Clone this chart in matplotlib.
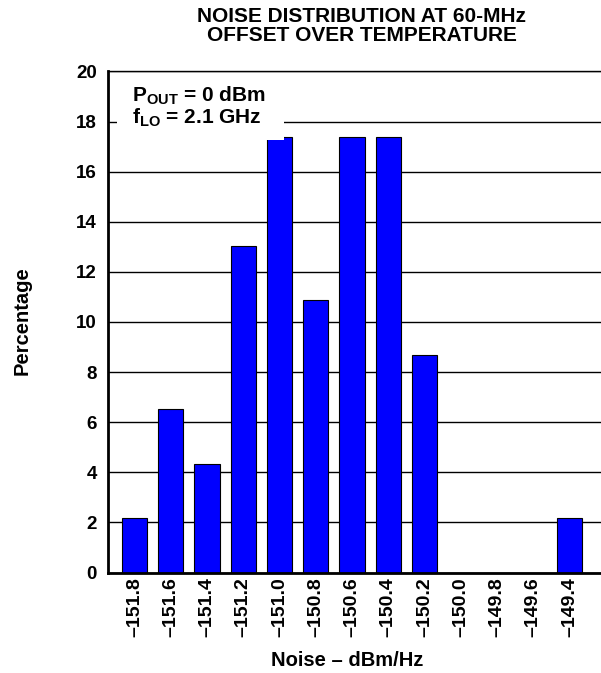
import matplotlib
matplotlib.use("Agg")
import matplotlib.pyplot as plt
from matplotlib.patches import Rectangle

plt.rcParams['font.family'] = ['Liberation Sans', 'DejaVu Sans']
plt.rcParams['font.weight'] = 'bold'
plt.rcParams['mathtext.fontset'] = 'custom'
plt.rcParams['mathtext.rm'] = 'Liberation Sans:bold'
plt.rcParams['mathtext.it'] = 'Liberation Sans:bold'
plt.rcParams['mathtext.bf'] = 'Liberation Sans:bold'

# noise bins (dBm/Hz) and share of parts in each bin (%)
noise_bins = ["\u2013151.8", "\u2013151.6", "\u2013151.4", "\u2013151.2", "\u2013151.0",
              "\u2013150.8", "\u2013150.6", "\u2013150.4", "\u2013150.2", "\u2013150.0",
              "\u2013149.8", "\u2013149.6", "\u2013149.4"]
percentage = [2.17, 6.52, 4.35, 13.04, 17.39, 10.87, 17.39, 17.39, 8.70, 0, 0, 0, 2.17]
y_ticks = [0, 2, 4, 6, 8, 10, 12, 14, 16, 18, 20]

fig = plt.figure(figsize=(6.01, 6.73), dpi=100)
ax = fig.add_axes([0.1797, 0.1493, 0.8203, 0.7445])

x = range(len(noise_bins))
ax.bar(x, percentage, width=0.7, color='#0000ff', edgecolor='black', linewidth=0.8, zorder=2)

ax.set_xlim(-0.73, 12.87)
ax.set_ylim(0, 20)
ax.set_yticks(y_ticks)
ax.set_xticks(list(x))
ax.set_xticklabels(noise_bins, rotation=90, fontsize=14, fontweight='bold')
ax.set_yticklabels([str(t) for t in y_ticks], fontsize=13.5, fontweight='bold')
ax.tick_params(axis='both', length=0)
ax.tick_params(axis='y', pad=8)
ax.tick_params(axis='x', pad=3.5)

# horizontal grid behind the bars
ax.yaxis.grid(True, color='black', linewidth=1.0, zorder=0)
ax.set_axisbelow(True)

for side in ['left', 'bottom']:
    ax.spines[side].set_linewidth(2.0)
ax.spines['top'].set_linewidth(1.0)
ax.spines['right'].set_visible(False)

# white backing behind the condition labels
ax.add_patch(Rectangle((-0.48, 17.26), 4.61, 2.65, facecolor='white', edgecolor='none', zorder=3))
ax.text(-0.08, 18.8, r"$\mathrm{P_{OUT}}$ = 0 dBm", fontsize=15, fontweight='bold',
        va='baseline', zorder=4)
ax.text(-0.08, 17.9, r"$\mathrm{f_{LO}}$ = 2.1 GHz", fontsize=15, fontweight='bold',
        va='baseline', zorder=4)

fig.text(0.602, 0.99, "NOISE DISTRIBUTION AT 60-MHz\nOFFSET OVER TEMPERATURE",
         ha='center', va='top', fontsize=15, fontweight='bold', linespacing=1.0)
fig.text(0.036, 0.523, "Percentage", rotation=90, ha='center', va='center',
         fontsize=14.5, fontweight='bold')
fig.text(0.577, 0.019, "Noise \u2013 dBm/Hz", ha='center', va='center',
         fontsize=14.5, fontweight='bold')

fig.savefig("out.png", dpi=100)
